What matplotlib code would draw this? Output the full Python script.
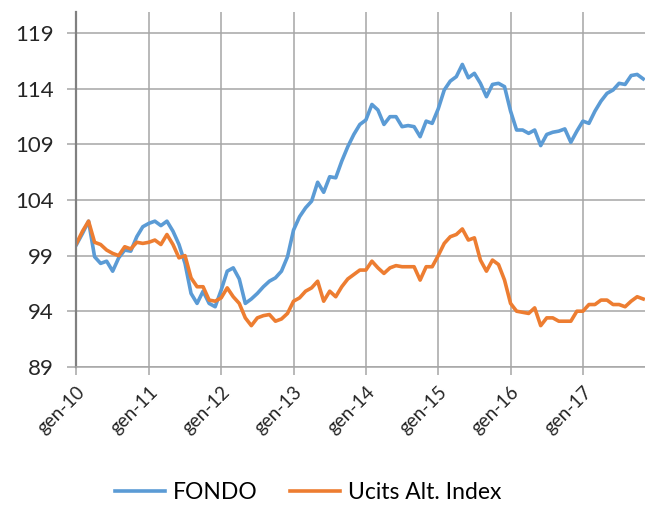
import numpy as np
import matplotlib.pyplot as plt

plt.rcParams['font.family'] = ['Lato', 'DejaVu Sans']

# monthly values, gen-10 .. nov-17
fondo = [100.0, 101.0, 102.1, 98.9, 98.3, 98.5, 97.6, 98.8, 99.5, 99.4,
         100.7, 101.6, 101.9, 102.1, 101.7, 102.1, 101.2, 100.0, 98.3, 95.6,
         94.7, 95.8, 94.7, 94.4, 95.9, 97.6, 97.9, 96.9, 94.7, 95.1,
         95.6, 96.2, 96.7, 97.0, 97.6, 98.9, 101.3, 102.5, 103.3, 103.9,
         105.6, 104.7, 106.1, 106.0, 107.5, 108.8, 109.9, 110.8, 111.2, 112.6,
         112.1, 110.8, 111.5, 111.5, 110.6, 110.7, 110.6, 109.7, 111.1, 110.9,
         112.2, 113.9, 114.7, 115.1, 116.2, 115.0, 115.4, 114.5, 113.3, 114.4,
         114.5, 114.2, 112.0, 110.3, 110.3, 110.0, 110.3, 108.9, 109.9, 110.1,
         110.2, 110.4, 109.2, 110.2, 111.1, 110.9, 112.0, 112.9, 113.6, 113.9,
         114.5, 114.4, 115.2, 115.3, 114.9]

ucits = [100.1, 101.2, 102.1, 100.2, 100.0, 99.5, 99.2, 99.0, 99.8, 99.6,
         100.2, 100.1, 100.2, 100.4, 100.0, 100.9, 100.0, 98.8, 99.0, 97.0,
         96.2, 96.2, 95.0, 94.9, 95.2, 96.1, 95.3, 94.7, 93.4, 92.7,
         93.4, 93.6, 93.7, 93.1, 93.3, 93.8, 94.9, 95.2, 95.8, 96.1,
         96.7, 94.9, 95.8, 95.3, 96.2, 96.9, 97.3, 97.7, 97.7, 98.5,
         97.9, 97.4, 97.9, 98.1, 98.0, 98.0, 98.0, 96.8, 98.0, 98.0,
         99.0, 100.1, 100.7, 100.9, 101.4, 100.4, 100.6, 98.6, 97.6, 98.6,
         98.2, 96.8, 94.7, 94.0, 93.9, 93.8, 94.3, 92.7, 93.4, 93.4,
         93.1, 93.1, 93.1, 94.0, 94.0, 94.6, 94.6, 95.0, 95.0, 94.6,
         94.6, 94.4, 94.9, 95.3, 95.1]

year_labels = ['gen-10', 'gen-11', 'gen-12', 'gen-13', 'gen-14', 'gen-15', 'gen-16', 'gen-17']
y_ticks = [89, 94, 99, 104, 109, 114, 119]

months = np.arange(len(fondo))

fig = plt.figure(figsize=(6.45, 5.08), dpi=100)
ax = fig.add_axes([0.1186, 0.278, 0.8814, 0.698])

ax.plot(months, fondo, color='#5B9BD5', lw=2.6, label='FONDO', solid_joinstyle='round')
ax.plot(months, ucits, color='#ED7D31', lw=2.6, label='Ucits Alt. Index', solid_joinstyle='round')

ax.set_xlim(0, 94.3)
ax.set_ylim(89, 120.9)
ax.set_yticks(y_ticks)
ax.set_xticks(np.arange(len(year_labels)) * 12)
ax.set_xticklabels(year_labels, rotation=45, ha='right', rotation_mode='anchor')

ax.grid(True, color='#A6A6A6', lw=1.1)
ax.set_axisbelow(True)
for s in ['top', 'right']:
    ax.spines[s].set_visible(False)
ax.spines['left'].set_color('#808080')
ax.spines['left'].set_linewidth(1.6)
ax.spines['bottom'].set_color('#A6A6A6')
ax.spines['bottom'].set_linewidth(1.1)
ax.tick_params(axis='y', length=6.5, width=1.1, color='#A6A6A6', labelsize=16, labelcolor='#262626', pad=10)
ax.tick_params(axis='x', length=5.8, width=1.1, color='#A6A6A6', labelsize=13.5, labelcolor='#262626', pad=6)

fig.legend(loc='center', bbox_to_anchor=(0.478, 0.03), ncol=2, frameon=False,
           fontsize=16.5, handlelength=2.2, columnspacing=1.4, handletextpad=0.35)

fig.savefig('out.png', dpi=100)
